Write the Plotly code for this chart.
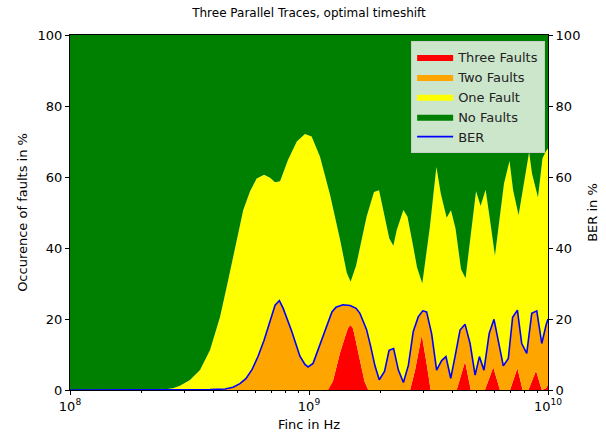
import plotly.graph_objects as go

# ---- data (frequency given as log10(Hz)) ----
ber_exp = [8.000, 8.335, 8.586, 8.649, 8.682, 8.711, 8.736, 8.762, 8.787, 8.812,
           8.837, 8.858, 8.876, 8.892, 8.928, 8.962, 8.983, 8.996, 9.017, 9.046,
           9.063, 9.081, 9.096, 9.113, 9.142, 9.172, 9.197, 9.213, 9.241, 9.259,
           9.276, 9.294, 9.316, 9.335, 9.354, 9.374, 9.395, 9.416, 9.436, 9.457,
           9.476, 9.492, 9.513, 9.534, 9.555, 9.573, 9.593, 9.611, 9.632, 9.653,
           9.674, 9.695, 9.713, 9.732, 9.754, 9.774, 9.792, 9.813, 9.834, 9.852,
           9.872, 9.890, 9.911, 9.932, 9.953, 9.974, 9.992, 10.000]
ber_pct = [0.0, 0.0, 0.1, 0.3, 0.8, 1.8, 3.2, 5.8, 9.5, 14.0,
           19.7, 23.9, 25.2, 23.0, 16.5, 9.5, 7.2, 6.5, 7.5, 13.0,
           16.2, 19.7, 22.0, 23.3, 24.0, 23.8, 23.0, 21.6, 17.0, 12.0,
           6.8, 2.9, 5.2, 11.2, 11.7, 5.6, 2.1, 7.0, 16.4, 20.6,
           22.3, 22.0, 15.9, 5.6, 8.3, 9.4, 3.3, 9.4, 16.9, 18.5,
           13.1, 4.2, 9.4, 5.6, 15.9, 19.9, 14.1, 6.8, 8.9, 20.5,
           22.5, 13.1, 10.3, 21.6, 22.3, 13.1, 18.3, 20.0]

# top of the "Two Faults" band (Three + Two) coincides with the BER curve
two_top_exp = ber_exp
two_top_pct = ber_pct

three_exp = [8.000, 9.079, 9.100, 9.116, 9.130, 9.151, 9.163, 9.174, 9.184, 9.192,
             9.205, 9.220, 9.232, 9.248, 9.423, 9.444, 9.472, 9.492, 9.509, 9.618,
             9.653, 9.677, 9.736, 9.771, 9.799, 9.841, 9.872, 9.894, 9.918, 9.950,
             9.974, 9.992, 10.000]
three_pct = [0.0, 0.0, 2.5, 6.6, 10.5, 15.0, 17.5, 18.3, 17.3, 15.0,
             11.0, 5.6, 2.5, 0.0, 0.0, 5.6, 15.5, 7.5, 0.0, 0.0,
             8.0, 0.0, 0.0, 6.4, 0.0, 0.0, 6.1, 0.0, 0.0, 5.4,
             0.0, 0.5, 1.5]

# top of the "One Fault" band (Three + Two + One)
one_top_exp = [8.000, 8.335, 8.397, 8.431, 8.460, 8.502, 8.544, 8.586, 8.628, 8.662,
               8.697, 8.725, 8.753, 8.781, 8.812, 8.837, 8.858, 8.879, 8.912, 8.949,
               8.983, 9.011, 9.046, 9.088, 9.130, 9.158, 9.174, 9.197, 9.241, 9.272,
               9.293, 9.314, 9.336, 9.353, 9.367, 9.395, 9.412, 9.436, 9.452, 9.474,
               9.506, 9.533, 9.551, 9.576, 9.594, 9.613, 9.636, 9.655, 9.699, 9.718,
               9.739, 9.757, 9.778, 9.816, 9.839, 9.854, 9.877, 9.921, 9.933, 9.958,
               9.977, 9.992, 10.000]
one_top_pct = [0.0, 0.0, 0.2, 0.5, 1.2, 2.8, 5.6, 11.3, 20.6, 31.0,
               42.3, 50.7, 55.9, 59.6, 60.6, 59.8, 58.5, 58.8, 64.8, 70.0,
               72.1, 71.4, 65.7, 55.0, 42.3, 33.0, 30.5, 35.0, 48.8, 55.8,
               56.3, 50.0, 42.7, 40.6, 45.0, 50.7, 48.8, 40.4, 34.5, 30.0,
               46.0, 62.8, 55.4, 48.5, 50.6, 45.5, 34.0, 31.5, 56.0, 51.8,
               56.4, 48.0, 37.8, 58.2, 64.5, 56.3, 49.2, 67.0, 61.0, 54.2,
               65.3, 67.3, 68.0]

# "No Faults" fills up to 100 %
none_top_exp = [8.0, 10.0]
none_top_pct = [100.0, 100.0]

x_tickvals = [1e8, 1e9, 1e10]
x_ticktext = ["10<sup>8</sup>", "10<sup>9</sup>", "10<sup>10</sup>"]
y_tickvals = [0, 20, 40, 60, 80, 100]

def hz(exps):
    return [10 ** e for e in exps]

FONT = "DejaVu Sans"

fig = go.Figure()
fig.add_trace(go.Scatter(x=hz(three_exp), y=three_pct, name="Three Faults",
                         mode="lines", line=dict(width=0, color="#ff0000"),
                         fill="tozeroy", fillcolor="#ff0000", hoverinfo="skip"))
fig.add_trace(go.Scatter(x=hz(two_top_exp), y=two_top_pct, name="Two Faults",
                         mode="lines", line=dict(width=0, color="#ffa500"),
                         fill="tonexty", fillcolor="#ffa500", hoverinfo="skip"))
fig.add_trace(go.Scatter(x=hz(one_top_exp), y=one_top_pct, name="One Fault",
                         mode="lines", line=dict(width=0, color="#ffff00"),
                         fill="tonexty", fillcolor="#ffff00", hoverinfo="skip"))
fig.add_trace(go.Scatter(x=hz(none_top_exp), y=none_top_pct, name="No Faults",
                         mode="lines", line=dict(width=0, color="#008000"),
                         fill="tonexty", fillcolor="#008000", hoverinfo="skip"))
fig.add_trace(go.Scatter(x=hz(ber_exp), y=ber_pct, name="BER", yaxis="y2",
                         mode="lines", line=dict(width=1.6, color="#0000ff")))

minor_vals = [m * 10 ** d for d in (8, 9) for m in range(2, 10)]

fig.update_layout(
    width=606, height=437,
    margin=dict(l=70, r=58, t=35, b=47),
    paper_bgcolor="white", plot_bgcolor="white",
    font=dict(family=FONT, size=12, color="black"),
    title=dict(text="Three Parallel Traces, optimal timeshift",
               x=0.5, xref="paper", xanchor="center",
               y=1 - 13 / 437, yref="container", yanchor="middle",
               font=dict(family=FONT, size=12, color="black")),
    xaxis=dict(type="log", range=[8, 10], tickmode="array",
               tickvals=x_tickvals, ticktext=x_ticktext,
               ticks="outside", ticklen=4, tickwidth=1, tickcolor="black",
               showline=True, linecolor="black", linewidth=1, mirror=True,
               showgrid=False, zeroline=False, automargin=False,
               tickfont=dict(family=FONT, size=13),
               minor=dict(tickmode="array", tickvals=minor_vals, ticks="outside",
                          ticklen=2, tickwidth=1, tickcolor="black", showgrid=False),
               title=dict(text="Finc in Hz", standoff=7,
                          font=dict(family=FONT, size=13))),
    yaxis=dict(range=[0, 100], tickmode="array", tickvals=y_tickvals,
               ticks="outside", ticklen=4, tickwidth=1, tickcolor="black",
               showline=True, linecolor="black", linewidth=1,
               showgrid=False, zeroline=False, automargin=False,
               tickfont=dict(family=FONT, size=13),
               title=dict(text="Occurence of faults in %", standoff=7,
                          font=dict(family=FONT, size=13))),
    yaxis2=dict(range=[0, 100], overlaying="y", side="right",
                tickmode="array", tickvals=y_tickvals,
                ticks="outside", ticklen=4, tickwidth=1, tickcolor="black",
                showline=True, linecolor="black", linewidth=1,
                showgrid=False, zeroline=False, automargin=False,
                tickfont=dict(family=FONT, size=13),
                title=dict(text="BER in %", standoff=8,
                           font=dict(family=FONT, size=13))),
    legend=dict(x=0.994, xanchor="right", y=0.983, yanchor="top",
                traceorder="normal",
                bgcolor="rgba(255,255,255,0.8)", bordercolor="#cccccc",
                borderwidth=1, font=dict(family=FONT, size=13, color="#222222"),
                tracegroupgap=0, itemwidth=36),
    showlegend=True,
)

fig.write_html("out.html")
